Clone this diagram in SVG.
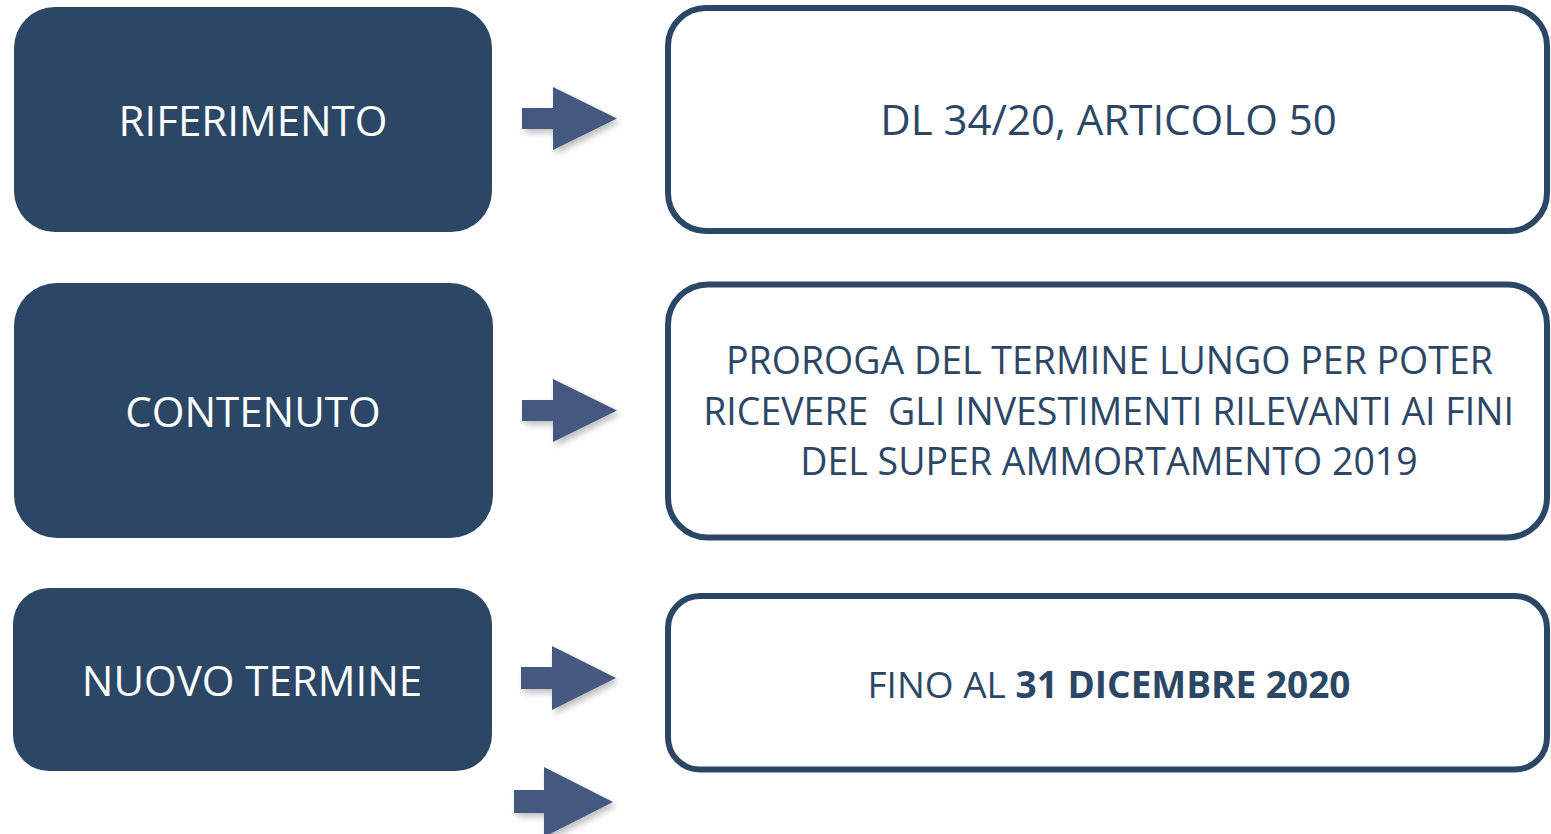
<svg xmlns="http://www.w3.org/2000/svg" width="1551" height="834" viewBox="0 0 1551 834">
<style>
.dark{fill:#2B4765}
.outl{fill:#ffffff;stroke:#2B4765;stroke-width:6}
.lt{font-family:"Open Sans","Liberation Sans",sans-serif;font-size:42px;fill:#ffffff;text-anchor:middle}
.rt{font-family:"Open Sans","Liberation Sans",sans-serif;font-size:42px;fill:#2B4765;text-anchor:middle}
.rs{font-family:"Open Sans","Liberation Sans",sans-serif;font-size:37.5px;fill:#2B4765;text-anchor:middle}
.rf{font-family:"Open Sans","Liberation Sans",sans-serif;font-size:37px;fill:#2B4765;text-anchor:middle}
.arr{fill:#44597F;filter:url(#sh)}
</style>
<defs>
<filter id="sh" x="-20%" y="-20%" width="150%" height="150%">
<feDropShadow dx="3" dy="4" stdDeviation="3" flood-color="#000000" flood-opacity="0.25"/>
</filter>
</defs>
<rect width="1551" height="834" fill="#ffffff"/>
<g id="connectors">
<polygon class="arr" points="522,108 553,108 553,87 617,118.5 553,150 553,129 522,129"/>
<polygon class="arr" points="522,400 553,400 553,379 617,410.5 553,442 553,421 522,421"/>
<polygon class="arr" points="521,667 552,667 552,646 616,678 552,710 552,689 521,689"/>
<polygon class="arr" points="514,790 544,790 544,767 613,802 544,837 544,813 514,813"/>
</g>
<g id="n-riferimento">
<rect class="dark" x="14" y="7" width="478" height="225" rx="41"/>
<text class="lt" x="253" y="136">RIFERIMENTO</text>
</g>
<g id="n-contenuto">
<rect class="dark" x="14" y="283" width="479" height="255" rx="43"/>
<text class="lt" x="253" y="427">CONTENUTO</text>
</g>
<g id="n-nuovo-termine">
<rect class="dark" x="13" y="588" width="479" height="183" rx="36"/>
<text class="lt" x="252" y="696">NUOVO TERMINE</text>
</g>
<g id="n-dl">
<rect class="outl" x="668" y="8" width="879" height="223" rx="38"/>
<text class="rt" x="1108.5" y="135">DL 34/20, ARTICOLO 50</text>
</g>
<g id="n-proroga">
<rect class="outl" x="668" y="284.5" width="879" height="253" rx="40"/>
<text class="rs" x="1109.5" y="374">PROROGA DEL TERMINE LUNGO PER POTER</text>
<text class="rs" x="1108.5" y="425" xml:space="preserve">RICEVERE  GLI INVESTIMENTI RILEVANTI AI FINI</text>
<text class="rs" x="1109" y="475">DEL SUPER AMMORTAMENTO 2019</text>
</g>
<g id="n-fino">
<rect class="outl" x="668" y="596" width="879" height="173.5" rx="32"/>
<text class="rf" x="1109" y="698">FINO AL <tspan font-weight="bold">31 DICEMBRE 2020</tspan></text>
</g>
</svg>
